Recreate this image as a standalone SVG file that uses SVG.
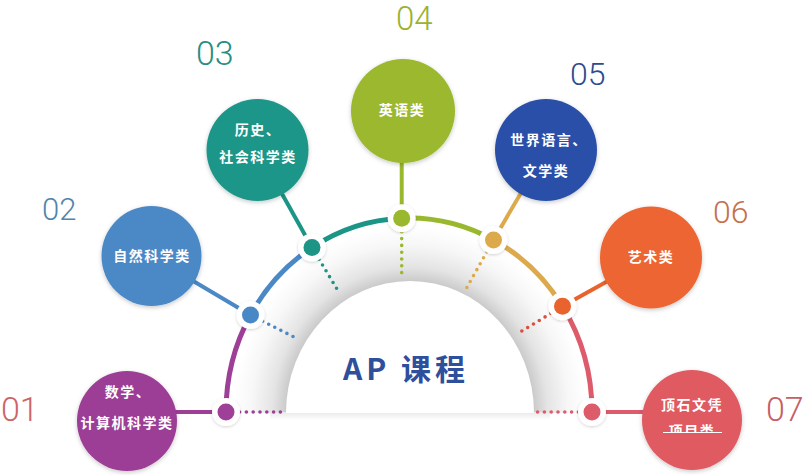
<svg xmlns="http://www.w3.org/2000/svg" width="804" height="475" viewBox="0 0 804 475">
<defs>
<style>
.num{font-family:Roboto,"Liberation Sans",sans-serif;font-weight:300;}
.lbl{font-family:"Noto Sans CJK SC","Noto Sans",sans-serif;font-weight:700;font-size:14px;fill:#fff;text-anchor:middle;letter-spacing:1.5px;}
.arc{fill:none;stroke-width:5;}
.con{stroke-width:4;fill:none;}
.dot{stroke:#fff;stroke-width:11;paint-order:stroke;filter:url(#dsh);}
.dash{fill:none;stroke-width:3.6;stroke-linecap:round;stroke-dasharray:0 6.8;}
.node{filter:url(#sh);}
</style>
<radialGradient id="glow" cx="0.5" cy="0.5" r="0.5">
<stop offset="0" stop-color="#d0d0d0"/>
<stop offset="0.69" stop-color="#c6c6c6"/>
<stop offset="0.78" stop-color="#e4e4e4"/>
<stop offset="0.9" stop-color="#f7f7f7"/>
<stop offset="1" stop-color="#ffffff"/>
</radialGradient>
<linearGradient id="base" x1="0" y1="0" x2="0" y2="1">
<stop offset="0" stop-color="#e8e8e8"/>
<stop offset="1" stop-color="#ffffff"/>
</linearGradient>
<clipPath id="top"><rect x="0" y="0" width="804" height="413"/></clipPath>
<clipPath id="c7"><rect x="640" y="420" width="110" height="13"/></clipPath>
<filter id="sh" x="-20%" y="-20%" width="140%" height="140%">
<feDropShadow dx="0" dy="1.5" stdDeviation="2" flood-color="#000" flood-opacity="0.22"/>
</filter>
<filter id="dsh" x="-50%" y="-50%" width="200%" height="200%">
<feDropShadow dx="0" dy="1" stdDeviation="1.5" flood-color="#000" flood-opacity="0.18"/>
</filter>
</defs>
<rect width="804" height="475" fill="#fff"/>

<g id="center">
<ellipse cx="410" cy="412" rx="176" ry="186" fill="url(#glow)" clip-path="url(#top)"/>
<rect x="270" y="412" width="280" height="8" fill="url(#base)"/>
<path d="M286,413 A124,132 0 0 1 534,413 Z" fill="#fff"/>
<text x="406" y="380" text-anchor="middle" font-family="'Noto Sans CJK SC','Liberation Sans',sans-serif" font-weight="700" font-size="30" letter-spacing="4" fill="#2e4f9c">AP 课程</text>
</g>

<g id="connectors">
<path class="arc" stroke="#9e3f97" d="M226,412 A183,194 0 0 1 250.5,315"/>
<path class="arc" stroke="#4a88c6" d="M250.5,315 A183,194 0 0 1 312,247.5"/>
<path class="arc" stroke="#1b9586" d="M312,247.5 A183,194 0 0 1 401.7,218.2"/>
<path class="arc" stroke="#9ab82e" d="M401.7,218.2 A183,194 0 0 1 493.5,240"/>
<path class="arc" stroke="#dcaa4c" d="M493.5,240 A183,194 0 0 1 562.5,306.3"/>
<path class="arc" stroke="#dd5b6a" d="M562.5,306.3 A183,194 0 0 1 592,412"/>

<path class="dash" stroke="#9e3f97" d="M226,412 L283,412"/>
<path class="dash" stroke="#4a88c6" d="M250.5,315 L298,339"/>
<path class="dash" stroke="#1b9586" d="M312,247.5 L340,294"/>
<path class="dash" stroke="#9ab82e" d="M401.7,218.2 L401.7,276"/>
<path class="dash" stroke="#dcaa4c" d="M493.5,240 L466,289"/>
<path class="dash" stroke="#d8503e" d="M562.5,306.3 L517,334"/>
<path class="dash" stroke="#dd5b6a" d="M592,412 L537,412"/>

<path class="con" stroke="#9e3f97" d="M127,412 L226,412"/>
<path class="con" stroke="#4a88c6" d="M151,256 L250.5,315"/>
<path class="con" stroke="#1b9586" d="M257.5,150 L312,247.5"/>
<path class="con" stroke="#9ab82e" d="M401.7,111 L401.7,218.2"/>
<path class="con" stroke="#dcaa4c" d="M546,150 L493.5,240"/>
<path class="con" stroke="#e8642e" d="M651,257 L562.5,306.3"/>
<path class="con" stroke="#dd5b6a" d="M592,412 L692,412"/>

<circle class="dot" cx="226" cy="412" r="8.5" fill="#9e3f97"/>
<circle class="dot" cx="250.5" cy="315" r="8.5" fill="#4a88c6"/>
<circle class="dot" cx="312" cy="247.5" r="8.5" fill="#1b9586"/>
<circle class="dot" cx="401.7" cy="218.2" r="8.5" fill="#9ab82e"/>
<circle class="dot" cx="493.5" cy="240" r="8.5" fill="#dcaa4c"/>
<circle class="dot" cx="562.5" cy="306.3" r="8.5" fill="#e8642e"/>
<circle class="dot" cx="592" cy="412" r="8.5" fill="#dd5b6a"/>
</g>

<g id="node01">
<circle class="node" cx="127" cy="421" r="50" fill="#9c3d96"/>
<text class="lbl" x="128" y="397">数学、</text>
<text class="lbl" x="127" y="428">计算机科学类</text>
<text class="num" x="1" y="421" font-size="34" fill="#cc6468">01</text>
</g>
<g id="node02">
<circle class="node" cx="151.5" cy="256" r="50" fill="#4b89c6"/>
<text class="lbl" x="152" y="261">自然科学类</text>
<text class="num" x="42" y="220" font-size="31" fill="#4f86ae">02</text>
</g>
<g id="node03">
<circle class="node" cx="257.5" cy="150" r="51" fill="#1c9688"/>
<text class="lbl" x="258" y="135">历史、</text>
<text class="lbl" x="258" y="162">社会科学类</text>
<text class="num" x="196" y="65" font-size="34" fill="#2a8d83">03</text>
</g>
<g id="node04">
<circle class="node" cx="403" cy="111" r="52" fill="#9cb82f"/>
<text class="lbl" x="402" y="115">英语类</text>
<text class="num" x="396" y="30" font-size="33" fill="#9bb22e">04</text>
</g>
<g id="node05">
<circle class="node" cx="546" cy="150" r="51" fill="#2b50a8"/>
<text class="lbl" x="549" y="145">世界语言、</text>
<text class="lbl" x="546" y="176">文学类</text>
<text class="num" x="570" y="85" font-size="32" fill="#2e4b8e">05</text>
</g>
<g id="node06">
<circle class="node" cx="651" cy="257.5" r="51" fill="#ec6530"/>
<text class="lbl" x="651" y="262">艺术类</text>
<text class="num" x="713" y="223" font-size="32" fill="#c4704c">06</text>
</g>
<g id="node07">
<circle class="node" cx="692" cy="420" r="50" fill="#e05a62"/>
<text class="lbl" x="692" y="410">顶石文凭</text>
<g clip-path="url(#c7)"><text class="lbl" x="692" y="436">项目类</text></g>
<line x1="663" y1="432.5" x2="722" y2="432.5" stroke="#fff" stroke-width="1.2"/>
<text class="num" x="766" y="421" font-size="34" fill="#c65e66">07</text>
</g>
</svg>
